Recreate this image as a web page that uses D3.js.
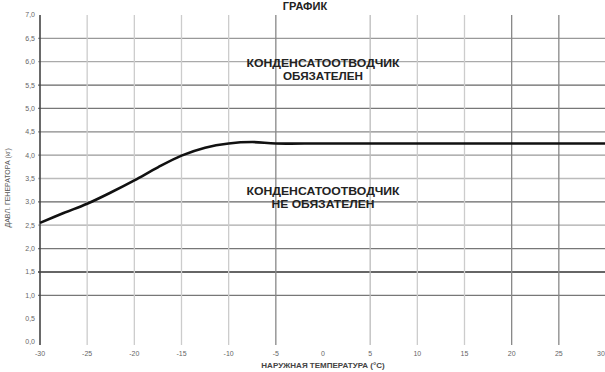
<!DOCTYPE html>
<html>
<head>
  <meta charset="utf-8">
  <script src="https://cdn.jsdelivr.net/npm/d3@7"></script>
  <style>
    body {margin:0; background:#fff;}
    text {font-family: "Liberation Sans", Arial, sans-serif;}
    .tick-label {font-size: 7px; fill: #666;}
    .note {font-size: 11.5px; font-weight: bold; fill: #222;}
  </style>
</head>
<body>
<script>
// temperature (°C) and pressure along the curve
const temps = [-30, -27.5, -25, -22.5, -20, -17.5, -15, -12.5, -10, -7.5, -5, 0, 10, 20, 30];
const pressure = [2.55, 2.76, 2.96, 3.2, 3.46, 3.74, 3.99, 4.16, 4.25, 4.28, 4.25, 4.25, 4.25, 4.25, 4.25];

const xTicks = [-30, -25, -20, -15, -10, -5, 0, 5, 10, 15, 20, 25, 30];
const yTicks = [0, 0.5, 1, 1.5, 2, 2.5, 3, 3.5, 4, 4.5, 5, 5.5, 6, 6.5, 7];

const hGrid = [1, 1.5, 2, 2.5, 3, 3.5, 4, 4.5, 5, 5.5, 6, 6.5];
const vGrid = [-25, -20, -15, -10, -5, 5, 10, 15, 20, 25];

const title = "ГРАФИК";
const yTitle = "ДАВЛ. ГЕНЕРАТОРА (кг)";
const xTitle = "НАРУЖНАЯ ТЕМПЕРАТУРА (°C)";
const upperNote = ["КОНДЕНСАТООТВОДЧИК", "ОБЯЗАТЕЛЕН"];
const lowerNote = ["КОНДЕНСАТООТВОДЧИК", "НЕ ОБЯЗАТЕЛЕН"];

// line shades (style only)
const hShade = {1: "#777", 1.5: "#666", 2: "#777", 2.5: "#aaa", 3: "#666", 3.5: "#bbb",
  4: "#999", 4.5: "#888", 5: "#777", 5.5: "#666", 6: "#aaa", 6.5: "#999"};
const vShade = {"-25": "#ccc", "-20": "#ccc", "-15": "#ccc", "-10": "#ccc", "-5": "#888",
  "5": "#bbb", "10": "#ccc", "15": "#ccc", "20": "#888", "25": "#888"};

const width = 605, height = 372;
const svg = d3.select("body").append("svg").attr("width", width).attr("height", height);

const x = d3.scaleLinear().domain([-30, 30]).range([40, 606]);
const y = d3.scaleLinear().domain([0, 7]).range([342, 15]);
const fmt = v => d3.format(".1f")(v).replace(".", ",");

// horizontal lines
svg.append("g").selectAll("line").data(hGrid).join("line")
  .attr("x1", x(-30) - 2).attr("x2", width)
  .attr("y1", d => y(d)).attr("y2", d => y(d))
  .attr("stroke", d => hShade[d])
  .attr("stroke-width", d => d === 1.5 ? 2 : 1.3);

// vertical lines
svg.append("g").selectAll("line").data(vGrid).join("line")
  .attr("x1", d => x(d)).attr("x2", d => x(d))
  .attr("y1", y(7)).attr("y2", 345)
  .attr("stroke", d => vShade[d])
  .attr("stroke-width", 1.3);

// y axis line
svg.append("line")
  .attr("x1", x(-30)).attr("x2", x(-30))
  .attr("y1", y(7)).attr("y2", 345)
  .attr("stroke", "#444").attr("stroke-width", 1.6);

// tick labels
svg.append("g").selectAll("text").data(yTicks).join("text")
  .attr("class", "tick-label")
  .attr("x", 35).attr("y", d => y(d))
  .attr("dy", "0.35em").attr("text-anchor", "end")
  .text(fmt);

svg.append("g").selectAll("text").data(xTicks).join("text")
  .attr("class", "tick-label")
  .attr("x", d => Math.min(x(d), 601)).attr("y", 356)
  .attr("text-anchor", "middle")
  .text(d => d);

// curve
const line = d3.line()
  .x((d, i) => x(temps[i]))
  .y(d => y(d))
  .curve(d3.curveCatmullRom.alpha(0.5));

svg.append("path")
  .datum(pressure)
  .attr("d", line)
  .attr("fill", "none")
  .attr("stroke", "#111")
  .attr("stroke-width", 2.6);

// notes
function note(lines, y0, w) {
  const t = svg.append("text").attr("class", "note").attr("text-anchor", "middle");
  lines.forEach((s, i) => {
    t.append("tspan").attr("x", x(0)).attr("y", y0 + i * 13)
      .attr("textLength", w[i]).attr("lengthAdjust", "spacingAndGlyphs")
      .text(s);
  });
}
note(upperNote, 67, [153, 80]);
note(lowerNote, 195, [153, 103]);

// titles
svg.append("text")
  .attr("x", 305).attr("y", 10)
  .attr("text-anchor", "middle")
  .style("font-size", "11px").style("font-weight", "bold").style("fill", "#222")
  .text(title);

svg.append("text")
  .attr("transform", `translate(10,${y(3.3)}) rotate(-90)`)
  .attr("text-anchor", "middle")
  .style("font-size", "7px").style("fill", "#555")
  .text(yTitle);

svg.append("text")
  .attr("x", x(0)).attr("y", 368)
  .attr("text-anchor", "middle")
  .style("font-size", "8px").style("font-weight", "bold").style("fill", "#444")
  .text(xTitle);
</script>
</body>
</html>
